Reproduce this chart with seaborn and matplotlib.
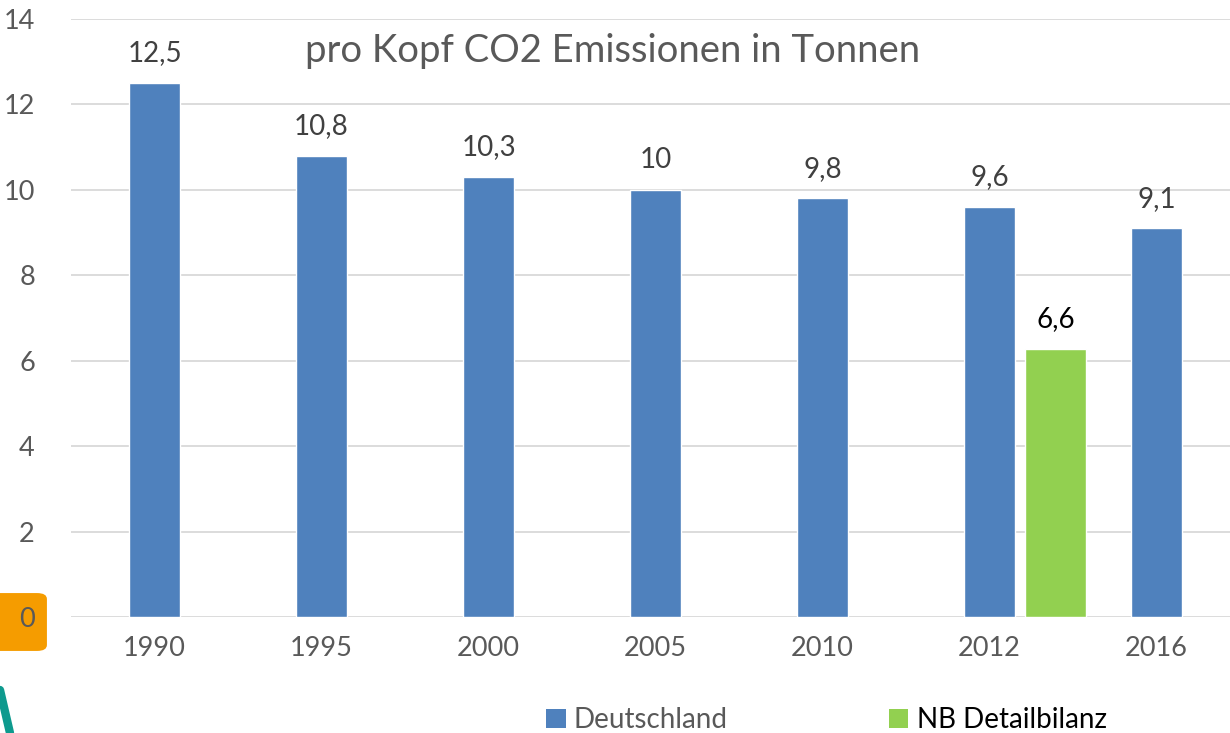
import matplotlib
matplotlib.use("Agg")
import matplotlib.pyplot as plt
import seaborn as sns
import pandas as pd
from matplotlib.patches import FancyBboxPatch, Patch

years = ["1990", "1995", "2000", "2005", "2010", "2012", "2016"]
deutschland = [12.5, 10.8, 10.3, 10.0, 9.8, 9.6, 9.1]
deutschland_labels = ["12,5", "10,8", "10,3", "10", "9,8", "9,6", "9,1"]
nb_year = "2012"
nb_value = 6.27
nb_label = "6,6"
title = "pro Kopf CO2 Emissionen in Tonnen"
yticks = [0, 2, 4, 6, 8, 10, 12, 14]

BLUE = "#4F81BD"
GREEN = "#92D050"
GRAY = "#595959"

sns.set_theme(style="white")
plt.rcParams['font.family'] = ['Lato', 'DejaVu Sans']

fig = plt.figure(figsize=(12.3, 7.33), dpi=100)
W, H = 1230, 733
ax = fig.add_axes([71 / W, (H - 617) / H, 1169 / W, 598 / H])
ax.set_zorder(2)
ax.patch.set_alpha(0)

# decoration in lower-left corner
fig.patches.append(FancyBboxPatch((-6 / W, (H - 648) / H), 48 / W, 52 / H,
                                  boxstyle="round,pad=0.004,rounding_size=0.008",
                                  transform=fig.transFigure, facecolor="#F59C00",
                                  edgecolor="none", zorder=0))
fig.add_artist(plt.Line2D([0 / W, 10 / W], [(H - 690) / H, 0], transform=fig.transFigure,
                          color="#0E9A8E", lw=6, zorder=0))

df = pd.DataFrame({"year": years, "value": deutschland})
sns.barplot(data=df, x="year", y="value", order=years, color=BLUE, width=0.31,
            saturation=1, ax=ax, zorder=3)

nb_pos = years.index(nb_year) + 0.395
ax.bar(nb_pos, nb_value, width=0.365, color=GREEN, zorder=3)

for i, (v, lab) in enumerate(zip(deutschland, deutschland_labels)):
    ax.annotate(lab, (i, v), xytext=(0, 12), textcoords="offset points",
                ha="center", va="bottom", fontsize=20, color="#404040")
ax.annotate(nb_label, (nb_pos, nb_value), xytext=(0, 12), textcoords="offset points",
            ha="center", va="bottom", fontsize=20, color="black")

ax.set_xlim(-0.5, 6.5)
ax.set_ylim(0, 14)
ax.set_yticks(yticks)
ax.set_yticklabels([str(t) for t in yticks])
ax.yaxis.grid(True, color="#D9D9D9", lw=1.3, zorder=0)
ax.set_axisbelow(True)
for s in ax.spines.values():
    s.set_visible(False)
ax.tick_params(axis="both", length=0, labelsize=19.5, labelcolor=GRAY)
ax.tick_params(axis="y", pad=26)
ax.tick_params(axis="x", pad=14)
ax.set_xlabel("")
ax.set_ylabel("")

fig.text(613 / W, (H - 51) / H, title, ha="center", va="center", fontsize=27.5, color=GRAY)

handles = [Patch(facecolor=BLUE, edgecolor="none"), Patch(facecolor=GREEN, edgecolor="none")]
leg = fig.legend(handles, ["Deutschland", "NB Detailbilanz"], loc="center left",
                 bbox_to_anchor=(535 / W, (H - 720) / H), ncol=2, frameon=False,
                 fontsize=20, handlelength=0.7, handleheight=0.7, handletextpad=0.3,
                 columnspacing=5.8, borderaxespad=0)
leg.get_texts()[0].set_color(GRAY)
leg.get_texts()[1].set_color("black")

fig.savefig("out.png", dpi=100)
